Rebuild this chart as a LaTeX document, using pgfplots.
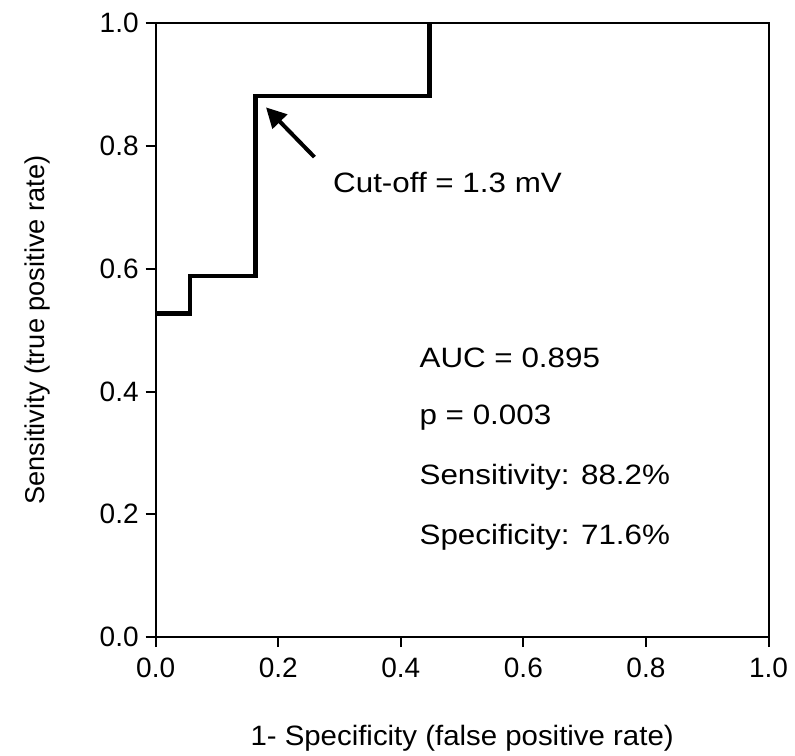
\documentclass[border=0pt]{standalone}
\usepackage{fontspec}
\setmainfont{Liberation Sans}
\newfontfamily\labfont[FakeStretch=1.05]{Liberation Sans}
\newfontfamily\notefont[FakeStretch=1.12]{Liberation Sans}
\usepackage{pgfplots}
\pgfplotsset{compat=1.18}
\usetikzlibrary{arrows.meta}

\begin{document}
\begin{tikzpicture}
\useasboundingbox (-77.85pt,-59pt) rectangle (319.65pt,318.5pt);
\begin{axis}[
    scale only axis,
    width=306.4pt,
    height=306.85pt,
    xmin=0, xmax=1,
    ymin=0, ymax=1,
    xtick={0,0.2,...,1.0},
    ytick={0,0.2,...,1.0},
    /pgf/number format/assume math mode=true,
    /pgf/number format/.cd, fixed, fixed zerofill, precision=1, /pgfplots/.cd,
    tick align=outside,
    major tick length=5pt,
    xtick pos=bottom,
    ytick pos=left,
    axis line style={line width=1pt},
    tick style={line width=1pt, black},
    ticklabel style={font=\fontsize{14}{16}\selectfont},
    xticklabel style={yshift=-2pt},
    xlabel={1- Specificity (false positive rate)},
    ylabel={Sensitivity (true positive rate)},
    xlabel style={font=\labfont\fontsize{14}{16}\selectfont,
        at={(axis description cs:0.5,0)}, anchor=center, yshift=-50.5pt},
    ylabel style={font=\fontsize{13.6}{16}\selectfont,
        at={(axis description cs:0,0.5)}, anchor=center, yshift=59.3pt},
    clip=false,
]
\addplot[black, line width=2.2pt, line join=miter] coordinates {
    (0,0.527) (0.056,0.527) (0.056,0.588) (0.163,0.588)
    (0.163,0.882) (0.447,0.882) (0.447,1.0)
};
\draw[line width=2pt, -{Triangle[length=10pt,width=10pt]}]
    (axis cs:0.259,0.782) -- (axis cs:0.180,0.863);
\begin{scope}[every node/.style={anchor=west, inner sep=0pt, font=\notefont\fontsize{14}{16}\selectfont}]
\node at (axis cs:0.289,0.740) {Cut-off = 1.3 mV};
\node at (axis cs:0.43,0.455) {AUC = 0.895};
\node at (axis cs:0.43,0.358) {p = 0.003};
\node at (axis cs:0.43,0.260) {Sensitivity: 88.2\%};
\node at (axis cs:0.43,0.163) {Specificity: 71.6\%};
\end{scope}
\end{axis}
\end{tikzpicture}
\end{document}
